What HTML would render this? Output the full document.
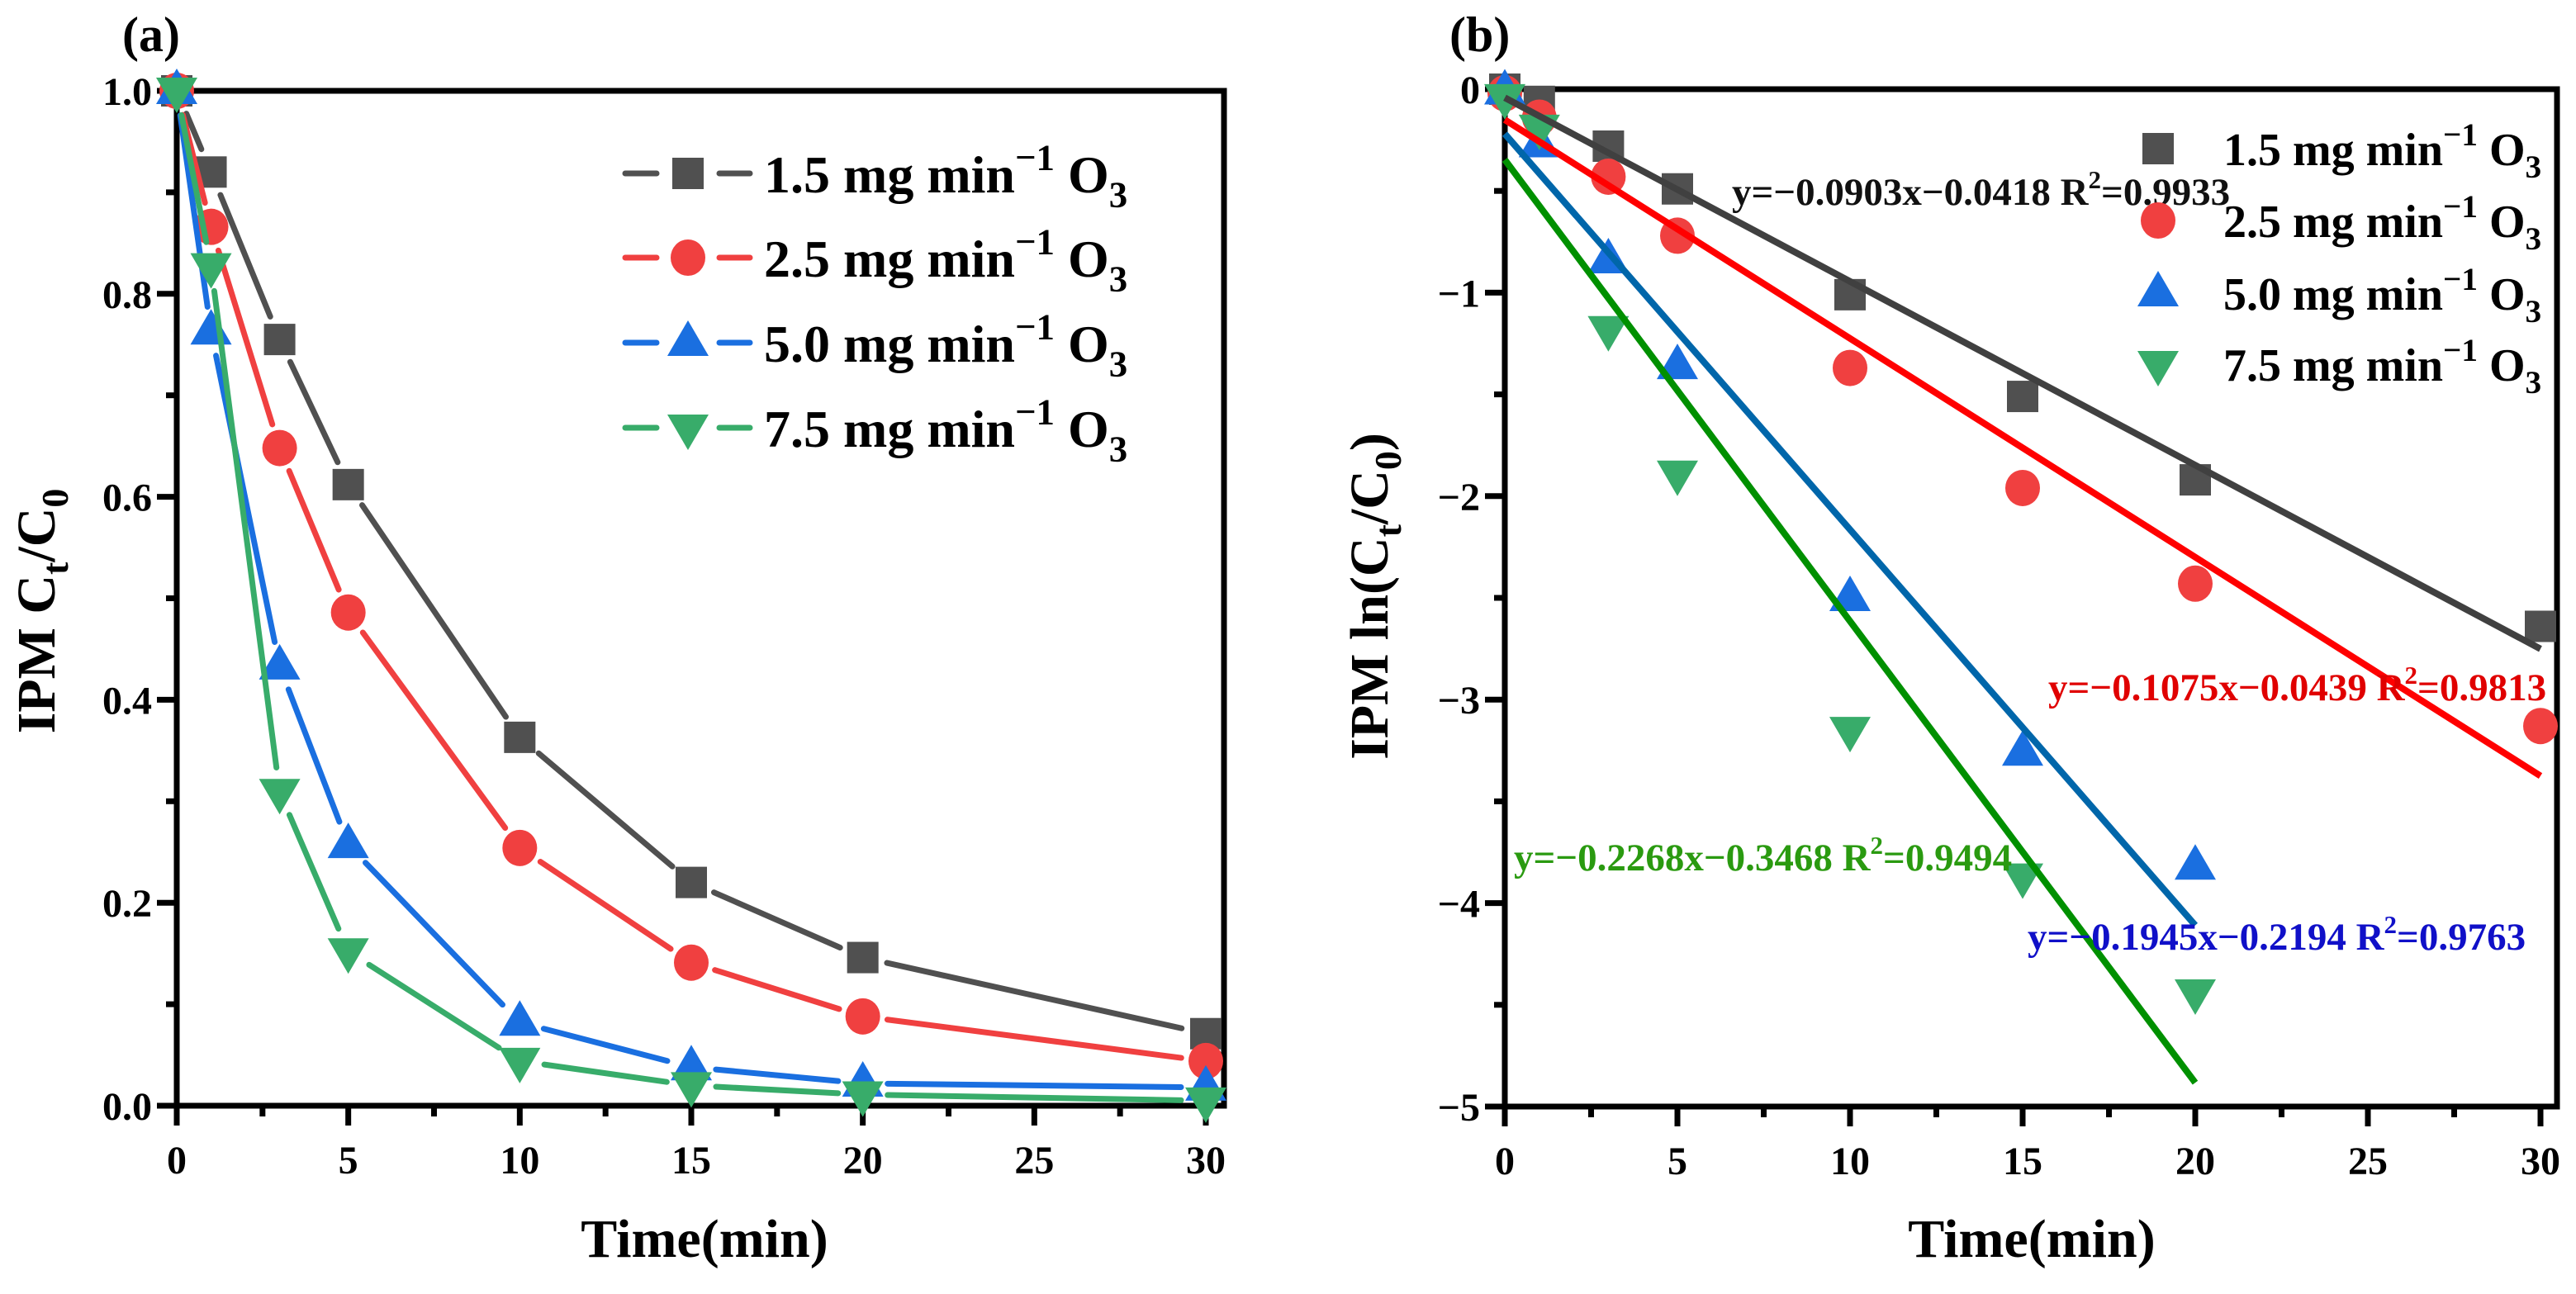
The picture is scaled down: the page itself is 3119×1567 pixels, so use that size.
<!DOCTYPE html>
<html><head><meta charset="utf-8"><style>
html,body{margin:0;padding:0;background:#fff;}
svg{display:block;font-family:"Liberation Serif","Times New Roman",serif;font-weight:bold;}
</style></head><body>
<svg id="fig" width="3119" height="1567" viewBox="0 0 3119 1567" xmlns="http://www.w3.org/2000/svg"></svg>
<script>
const times = [0, 1, 3, 5, 10, 15, 20, 30];
const seriesLabels = ["1.5", "2.5", "5.0", "7.5"];
const aBlack = [1.0, 0.92, 0.755, 0.612, 0.363, 0.22, 0.146, 0.071];
const aRed = [1.0, 0.866, 0.648, 0.486, 0.254, 0.141, 0.088, 0.044];
const aBlue = [1.0, 0.763, 0.433, 0.257, 0.082, 0.038, 0.022, 0.018];
const aGreen = [1.0, 0.827, 0.309, 0.152, 0.044, 0.02, 0.011, 0.005];
const bTimesLong = [0, 1, 3, 5, 10, 15, 20, 30];
const bTimesShort = [0, 1, 3, 5, 10, 15, 20];
const bBlack = [0, -0.06, -0.28, -0.49, -1.01, -1.51, -1.92, -2.64];
const bRed = [-0.02, -0.14, -0.43, -0.72, -1.37, -1.96, -2.43, -3.13];
const bBlue = [-0.01, -0.27, -0.84, -1.36, -2.50, -3.26, -3.82];
const bGreen = [-0.04, -0.19, -1.18, -1.89, -3.15, -3.87, -4.44];
const fitSlopes = [-0.0903, -0.1075, -0.1945, -0.2268];
const fitIntercepts = [-0.0418, -0.15, -0.2194, -0.3468];
const fitEnds = [30, 30, 20, 20];
const fitLabels = ["y=\u22120.0903x\u22120.0418 R", "y=\u22120.1075x\u22120.0439 R", "y=\u22120.1945x\u22120.2194 R", "y=\u22120.2268x\u22120.3468 R"];
const fitR2 = ["=0.9933", "=0.9813", "=0.9763", "=0.9494"];
const xTicks = [0, 5, 10, 15, 20, 25, 30];
const aYTicks = [0, 0.2, 0.4, 0.6, 0.8, 1.0];
const bYTicks = [0, -1, -2, -3, -4, -5];

const NS = "http://www.w3.org/2000/svg";
const svg = document.getElementById("fig");
function mk(tag, attrs, parent, text){
  const e = document.createElementNS(NS, tag);
  for (const k in attrs) e.setAttribute(k, attrs[k]);
  if (text !== undefined) e.textContent = text;
  (parent || svg).appendChild(e);
  return e;
}
const mColors = ["#505050", "#f04040", "#1a6fe0", "#38ac6a"];
const fitColors = ["#404040", "#ff0000", "#0066aa", "#009000"];
const annColors = ["#111111", "#e00000", "#1010c8", "#2a9a10"];

function marker(kind, cx, cy, color, parent, name){
  let e;
  if (kind === 0) e = mk("rect", {x: cx-19, y: cy-19, width: 38, height: 38, fill: color}, parent);
  else if (kind === 1) e = mk("ellipse", {cx: cx, cy: cy, rx: 21, ry: 22, fill: color}, parent);
  else if (kind === 2) e = mk("polygon", {points: `${cx},${cy-27} ${cx+25},${cy+16} ${cx-25},${cy+16}`, fill: color}, parent);
  else e = mk("polygon", {points: `${cx},${cy+27} ${cx+25},${cy-16} ${cx-25},${cy-16}`, fill: color}, parent);
  
  
  return e;
}

function axes(g, X0, X30, right, top, bottom, yTicks, yMin, yMax, yFmt, yMinorStep, panel){
  const sx = v => X0 + (X30 - X0) * v / 30;
  const sy = v => bottom - (bottom - top) * (v - yMin) / (yMax - yMin);
  const frame = mk("rect", {x: X0, y: top, width: right - X0, height: bottom - top, fill: "none", stroke: "#000", "stroke-width": 7}, g);
  
  
  for (let v = 0; v <= 30; v += 2.5) {
    const major = Math.abs(v % 5) < 1e-9;
    const t = mk("line", {x1: sx(v), x2: sx(v), y1: bottom, y2: bottom + (major ? 24 : 13), stroke: "#000", "stroke-width": 7}, g);
    
    
  }
  xTicks.forEach(v => {
    const t = mk("text", {x: sx(v), y: bottom + 82, "text-anchor": "middle", "font-size": 48}, g, String(v));
    
    
  });
  for (let v = yMin; v <= yMax + 1e-9; v += yMinorStep) {
    const major = yTicks.some(t => Math.abs(t - v) < 1e-6);
    const t = mk("line", {x1: X0, x2: X0 - (major ? 24 : 13), y1: sy(v), y2: sy(v), stroke: "#000", "stroke-width": 7}, g);
    
    
  }
  yTicks.forEach(v => {
    const t = mk("text", {x: X0 - 30, y: sy(v) + 17, "text-anchor": "end", "font-size": 48}, g, yFmt(v));
    
    
  });
  return {sx, sy};
}

function legendText(g, x, y, label, name, fs){
  const t = mk("text", {x: x, y: y, "font-size": fs}, g);
  
  
  mk("tspan", {}, t, label + " mg min");
  mk("tspan", {dy: -fs*0.43, "font-size": fs*0.7}, t, "\u22121");
  mk("tspan", {dy: fs*0.43}, t, " O");
  mk("tspan", {dy: fs*0.27, "font-size": fs*0.7}, t, "3");
}

/* ---------- Panel (a) ---------- */
const ga = mk("g", {});


const A = axes(ga, 214, 1460, 1482, 110, 1339, aYTicks, 0, 1, v => v.toFixed(1), 0.1, 'panel-a');
const pa = mk("text", {x: 148, y: 62, "font-size": 60}, ga, "(a)");


const xa = mk("text", {x: 853, y: 1522, "text-anchor": "middle", "font-size": 66}, ga, "Time(min)");


const ya = mk("text", {transform: "translate(66,740) rotate(-90)", "text-anchor": "middle", "font-size": 66}, ga);


mk("tspan", {}, ya, "IPM C");
mk("tspan", {dy: 16, "font-size": 46}, ya, "t");
mk("tspan", {dy: -16}, ya, "/C");
mk("tspan", {dy: 16, "font-size": 46}, ya, "0");

[aBlack, aRed, aBlue, aGreen].forEach((vals, si) => {
  const sg = mk("g", {}, ga);
  
  
  const pts = vals.map((v, i) => [A.sx(times[i]), A.sy(v)]);
  for (let i = 0; i < pts.length - 1; i++) {
    const [x1, y1] = pts[i], [x2, y2] = pts[i+1];
    const d = Math.hypot(x2 - x1, y2 - y1), gap = 30;
    if (d <= 2 * gap) continue;
    const ux = (x2 - x1) / d, uy = (y2 - y1) / d;
    const l = mk("line", {x1: x1 + ux*gap, y1: y1 + uy*gap, x2: x2 - ux*gap, y2: y2 - uy*gap, stroke: mColors[si], "stroke-width": 7, "stroke-linecap": "round"}, sg);
    
    
  }
  pts.forEach(p => marker(si, p[0], p[1], mColors[si], sg, 'data-point'));
});
const legA = [210, 312, 415, 518];
legA.forEach((y, si) => {
  const lg = mk("g", {}, ga);
  
  
  mk("line", {x1: 757, x2: 795, y1: y, y2: y, stroke: mColors[si], "stroke-width": 7, "stroke-linecap": "round"}, lg);
  mk("line", {x1: 871, x2: 908, y1: y, y2: y, stroke: mColors[si], "stroke-width": 7, "stroke-linecap": "round"}, lg);
  marker(si, 833, y, mColors[si], lg, 'legend-marker');
  legendText(lg, 925, y + 23, seriesLabels[si], 'legend-label', 64);
});

/* ---------- Panel (b) ---------- */
const gb = mk("g", {});


const B = axes(gb, 1822, 3076, 3096, 108, 1340, bYTicks, -5, 0, v => v === 0 ? "0" : "\u2212" + Math.abs(v), 0.5, 'panel-b');
const pb = mk("text", {x: 1755, y: 62, "font-size": 60}, gb, "(b)");


const xb = mk("text", {x: 2460, y: 1522, "text-anchor": "middle", "font-size": 66}, gb, "Time(min)");


const yb = mk("text", {transform: "translate(1680,722) rotate(-90)", "text-anchor": "middle", "font-size": 66}, gb);


mk("tspan", {}, yb, "IPM ln(C");
mk("tspan", {dy: 16, "font-size": 46}, yb, "t");
mk("tspan", {dy: -16}, yb, "/C");
mk("tspan", {dy: 16, "font-size": 46}, yb, "0");
mk("tspan", {dy: -16}, yb, ")");

[[bTimesLong, bBlack], [bTimesLong, bRed], [bTimesShort, bBlue], [bTimesShort, bGreen]].forEach(([ts, vals], si) => {
  const sg = mk("g", {}, gb);
  
  
  vals.forEach((v, i) => marker(si, B.sx(ts[i]), B.sy(v), mColors[si], sg, 'data-point'));
});
fitSlopes.forEach((k, si) => {
  const b0 = fitIntercepts[si], xe = fitEnds[si];
  const l = mk("line", {x1: B.sx(0), y1: B.sy(b0), x2: B.sx(xe), y2: B.sy(b0 + k * xe), stroke: fitColors[si], "stroke-width": 8}, gb);
  
  
});
const annPos = [[2097, 248], [2480, 848], [2455, 1150], [1833, 1054]];
annPos.forEach((p, si) => {
  const t = mk("text", {x: p[0], y: p[1], "font-size": 47, fill: annColors[si]}, gb);
  
  
  mk("tspan", {}, t, fitLabels[si]);
  mk("tspan", {dy: -20, "font-size": 31}, t, "2");
  mk("tspan", {dy: 20}, t, fitR2[si]);
});
const legB = [180, 267, 355, 441];
legB.forEach((y, si) => {
  const lg = mk("g", {}, gb);
  
  
  marker(si, 2613, y, mColors[si], lg, 'legend-marker');
  legendText(lg, 2692, y + 20, seriesLabels[si], 'legend-label', 56);
});
</script>
</body></html>
